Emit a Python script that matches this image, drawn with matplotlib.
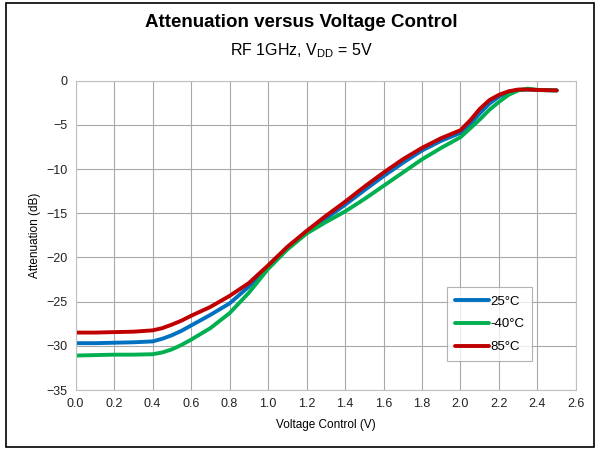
import matplotlib
matplotlib.use("Agg")
import matplotlib.pyplot as plt
from matplotlib.patches import Rectangle

plt.rcParams["font.family"] = ["Liberation Sans", "DejaVu Sans"]

# control voltage (V) and attenuation (dB)
v_ctrl = [0.0, 0.1, 0.2, 0.3, 0.4, 0.45, 0.5, 0.55, 0.6, 0.7, 0.8, 0.9, 1.0, 1.1, 1.2,
          1.3, 1.4, 1.5, 1.6, 1.7, 1.8, 1.9, 2.0, 2.05, 2.1, 2.15, 2.2, 2.25, 2.3,
          2.35, 2.4, 2.5]
att_25 = [-29.7, -29.7, -29.65, -29.6, -29.5, -29.2, -28.8, -28.3, -27.7, -26.5, -25.2,
          -23.3, -21.0, -19.0, -17.1, -15.6, -14.05, -12.4, -10.8, -9.3, -7.9, -6.8,
          -5.9, -4.9, -3.7, -2.6, -1.8, -1.3, -1.05, -1.0, -1.05, -1.1]
att_m40 = [-31.1, -31.05, -31.0, -31.0, -30.95, -30.75, -30.4, -29.9, -29.3, -28.0, -26.3,
           -24.0, -21.3, -19.1, -17.3, -16.0, -14.8, -13.4, -11.9, -10.4, -8.9, -7.6,
           -6.4, -5.4, -4.4, -3.3, -2.4, -1.6, -1.1, -0.9, -1.05, -1.1]
att_85 = [-28.5, -28.5, -28.45, -28.4, -28.25, -28.0, -27.6, -27.15, -26.6, -25.6, -24.35,
          -22.9, -20.9, -18.8, -17.0, -15.3, -13.7, -12.0, -10.4, -8.9, -7.6, -6.5,
          -5.6, -4.5, -3.2, -2.2, -1.6, -1.2, -1.0, -1.0, -1.05, -1.1]

series = [
    ("25°C", att_25, "#0070C0"),
    ("-40°C", att_m40, "#00B050"),
    ("85°C", att_85, "#C00000"),
]

fig = plt.figure(figsize=(6.02, 4.5), dpi=100)
ax = fig.add_axes([0.1257, 0.1333, 0.831, 0.6874])

for label, vals, col in series:
    ax.plot(v_ctrl, vals, color=col, lw=2.8, label=label, solid_capstyle="round")

ax.set_xlim(0, 2.6)
ax.set_ylim(-35, 0)
ax.set_xticks([i * 0.2 for i in range(14)])
ax.set_xticklabels([f"{i * 0.2:.1f}" for i in range(14)])
ax.set_yticks(range(-35, 1, 5))
ax.tick_params(length=0, labelsize=9, colors="#222222", pad=6)
ax.grid(True, color="#a8a8a8", lw=0.8)
ax.set_axisbelow(True)
for s in ax.spines.values():
    s.set_color("#bfbfbf")
    s.set_linewidth(0.8)

ax.set_xlabel("Voltage Control (V)", fontsize=8.5, labelpad=6)
ax.set_ylabel("Attenuation (dB)", fontsize=8.5, labelpad=4)

leg = ax.legend(loc="lower right", bbox_to_anchor=(0.926, 0.072), fontsize=9.5,
                fancybox=False, edgecolor="#a0a0a0", handlelength=2.6,
                handletextpad=0.1, labelspacing=0.8, borderpad=0.6)
leg.get_frame().set_linewidth(0.8)

fig.text(0.5, 0.951, "Attenuation versus Voltage Control", ha="center", va="center",
         fontsize=13.5, fontweight="bold")
fig.text(0.5, 0.888, r"RF 1GHz, V$_\mathregular{DD}$ = 5V", ha="center", va="center",
         fontsize=11.5)

fig.patches.append(Rectangle((6 / 602, 3 / 450), 588 / 602, 444 / 450,
                             transform=fig.transFigure, fill=False,
                             edgecolor="black", lw=1.2))

fig.savefig("out.png", dpi=100)
